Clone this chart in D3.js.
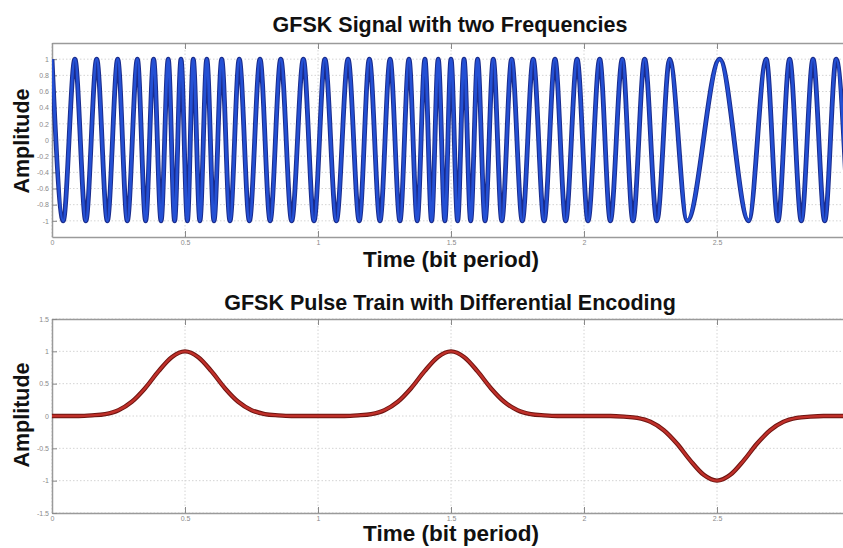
<!DOCTYPE html>
<html>
<head>
<meta charset="utf-8">
<script src="https://cdn.jsdelivr.net/npm/d3@7"></script>
<style>
  body { margin: 0; background: #fff; }
  svg { display: block; font-family: "Liberation Sans", Arial, sans-serif; }
</style>
</head>
<body>
<script>
// ---- datos ----
var xTicks = [0, 0.5, 1, 1.5, 2, 2.5]
var xTickLabels = ["0", "0.5", "1", "1.5", "2", "2.5"]
var topYTicks = [-1, -0.8, -0.6, -0.4, -0.2, 0, 0.2, 0.4, 0.6, 0.8, 1]
var topYTickLabels = ["-1", "-0.8", "-0.6", "-0.4", "-0.2", "0", "0.2", "0.4", "0.6", "0.8", "1"]
var botYTicks = [-1.5, -1, -0.5, 0, 0.5, 1, 1.5]
var botYTickLabels = ["-1.5", "-1", "-0.5", "0", "0.5", "1", "1.5"]

// picos y valles de la senal GFSK (tiempo en periodos de bit)
var sigT = [0.000, 0.042, 0.086, 0.127, 0.168, 0.208, 0.247, 0.283, 0.321, 0.352,
            0.382, 0.410, 0.437, 0.461, 0.485, 0.509, 0.531, 0.556, 0.582, 0.609,
            0.638, 0.669, 0.704, 0.742, 0.782, 0.820, 0.860, 0.901, 0.945, 0.985,
            1.026, 1.069, 1.113, 1.155, 1.193, 1.233, 1.271, 1.308, 1.342, 1.373,
            1.402, 1.427, 1.452, 1.477, 1.500, 1.525, 1.549, 1.574, 1.600, 1.628,
            1.659, 1.691, 1.728, 1.768, 1.809, 1.850, 1.891, 1.931, 1.974, 2.015,
            2.059, 2.099, 2.144, 2.184, 2.228, 2.274, 2.322, 2.388, 2.510, 2.619,
            2.685, 2.729, 2.773, 2.817, 2.861, 2.905, 2.948, 2.992]
var sigV = [1, -1, 1, -1, 1, -1, 1, -1, 1, -1,
            1, -1, 1, -1, 1, -1, 1, -1, 1, -1,
            1, -1, 1, -1, 1, -1, 1, -1, 1, -1,
            1, -1, 1, -1, 1, -1, 1, -1, 1, -1,
            1, -1, 1, -1, 1, -1, 1, -1, 1, -1,
            1, -1, 1, -1, 1, -1, 1, -1, 1, -1,
            1, -1, 1, -1, 1, -1, 1, -1, 1, -1,
            1, -1, 1, -1, 1, -1, 1, -1]

// tren de pulsos gaussianos
var pulseT = [0, 0.05, 0.1, 0.15, 0.2, 0.25, 0.3, 0.35, 0.4, 0.45,
              0.5, 0.55, 0.6, 0.65, 0.7, 0.75, 0.8, 0.85, 0.9, 0.95,
              1, 1.05, 1.1, 1.15, 1.2, 1.25, 1.3, 1.35, 1.4, 1.45,
              1.5, 1.55, 1.6, 1.65, 1.7, 1.75, 1.8, 1.85, 1.9, 1.95,
              2, 2.05, 2.1, 2.15, 2.2, 2.25, 2.3, 2.35, 2.4, 2.45,
              2.5, 2.55, 2.6, 2.65, 2.7, 2.75, 2.8, 2.85, 2.9, 2.95, 3]
var pulseV = [0, 0, 0, 0.01, 0.03, 0.09, 0.22, 0.43, 0.69, 0.91,
              1.00, 0.91, 0.69, 0.43, 0.22, 0.09, 0.03, 0.01, 0, 0,
              0, 0, 0, 0.01, 0.03, 0.09, 0.22, 0.43, 0.69, 0.91,
              1.00, 0.91, 0.69, 0.43, 0.22, 0.09, 0.03, 0.01, 0, 0,
              0, 0, 0, -0.01, -0.03, -0.09, -0.22, -0.43, -0.69, -0.91,
              -1.00, -0.91, -0.69, -0.43, -0.22, -0.09, -0.03, -0.01, 0, 0, 0]

var width = 843
var height = 548

var svg = d3.select("body")
    .append("svg")
    .attr("width", width)
    .attr("height", height)

function pintarPanel(cfg) {
    var escalaX = d3.scaleLinear()
        .domain([0, 3])
        .range([cfg.left, cfg.right])

    var escalaY = d3.scaleLinear()
        .domain(cfg.yDomain)
        .range([cfg.bottom, cfg.top])

    var g = svg.append("g")

    // grid punteado
    g.selectAll(".gy")
        .data(cfg.yTicks)
        .enter()
        .append("line")
        .attr("x1", cfg.left)
        .attr("x2", cfg.right)
        .attr("y1", d => escalaY(d))
        .attr("y2", d => escalaY(d))
        .attr("stroke", "#d4d4d4")
        .attr("stroke-width", 1)
        .attr("stroke-dasharray", "1.5,2")

    g.selectAll(".gx")
        .data(xTicks)
        .enter()
        .append("line")
        .attr("x1", d => escalaX(d))
        .attr("x2", d => escalaX(d))
        .attr("y1", cfg.top)
        .attr("y2", cfg.bottom)
        .attr("stroke", "#d4d4d4")
        .attr("stroke-width", 1)
        .attr("stroke-dasharray", "1.5,2")

    // ejes
    var ejeX = d3.axisBottom(escalaX)
        .tickValues(xTicks)
        .tickFormat((d, i) => xTickLabels[i])
        .tickSizeInner(-6)
        .tickSizeOuter(0)
        .tickPadding(3)

    var ejeXTop = d3.axisTop(escalaX)
        .tickValues(xTicks)
        .tickFormat("")
        .tickSizeInner(-6)
        .tickSizeOuter(0)

    var ejeY = d3.axisLeft(escalaY)
        .tickValues(cfg.yTicks)
        .tickFormat((d, i) => cfg.yLabels[i])
        .tickSizeInner(-5)
        .tickSizeOuter(0)
        .tickPadding(3)

    var gx = g.append("g")
        .attr("transform", "translate(0," + cfg.bottom + ")")
        .call(ejeX)
    var gxt = g.append("g")
        .attr("transform", "translate(0," + cfg.top + ")")
        .call(ejeXTop)
    var gy = g.append("g")
        .attr("transform", "translate(" + cfg.left + ",0)")
        .call(ejeY)

    ;[gx, gxt, gy].forEach(function (a) {
        a.select(".domain").attr("stroke", "#9a9a9a").attr("stroke-width", 1.5)
        a.selectAll(".tick line").attr("stroke", "#8a8a8a").attr("stroke-width", 1)
        a.selectAll(".tick text")
            .attr("fill", "#8a8a8a")
            .style("font-size", "7px")
    })

    // clip
    var clipId = "clip" + cfg.id
    svg.append("clipPath")
        .attr("id", clipId)
        .append("rect")
        .attr("x", cfg.left)
        .attr("y", cfg.top - 4)
        .attr("width", cfg.right - cfg.left)
        .attr("height", cfg.bottom - cfg.top + 8)

    var linea = d3.line()
        .x(d => escalaX(d[0]))
        .y(d => escalaY(d[1]))
        .curve(cfg.curve)

    var puntos = d3.zip(cfg.xs, cfg.ys)

    g.append("path")
        .datum(puntos)
        .attr("clip-path", "url(#" + clipId + ")")
        .attr("fill", "none")
        .attr("stroke", cfg.dark)
        .attr("stroke-width", cfg.lw + 1.2)
        .attr("d", linea)

    g.append("path")
        .datum(puntos)
        .attr("clip-path", "url(#" + clipId + ")")
        .attr("fill", "none")
        .attr("stroke", cfg.color)
        .attr("stroke-width", cfg.lw - 0.8)
        .attr("d", linea)

    // textos
    svg.append("text")
        .attr("x", 450)
        .attr("y", cfg.titleY)
        .attr("text-anchor", "middle")
        .style("font-size", "21.5px")
        .style("font-weight", "bold")
        .attr("fill", "#111")
        .text(cfg.title)

    svg.append("text")
        .attr("x", 451)
        .attr("y", cfg.xLabelY)
        .attr("text-anchor", "middle")
        .style("font-size", "22.5px")
        .style("font-weight", "bold")
        .attr("fill", "#111")
        .text("Time (bit period)")

    svg.append("text")
        .attr("transform", "translate(29," + cfg.yLabelC + ") rotate(-90)")
        .attr("text-anchor", "middle")
        .style("font-size", "21.5px")
        .style("font-weight", "bold")
        .attr("fill", "#111")
        .text("Amplitude")
}

pintarPanel({
    id: "a",
    left: 52, right: 850, top: 43, bottom: 237,
    yDomain: [-1.2, 1.2],
    yTicks: topYTicks, yLabels: topYTickLabels,
    xs: sigT, ys: sigV,
    curve: d3.curveMonotoneX,
    color: "#2450d4", dark: "#1a2c8c", lw: 3.6,
    title: "GFSK Signal with two Frequencies", titleY: 32,
    xLabelY: 267, yLabelC: 141
})

pintarPanel({
    id: "b",
    left: 52, right: 850, top: 319, bottom: 513,
    yDomain: [-1.5, 1.5],
    yTicks: botYTicks, yLabels: botYTickLabels,
    xs: pulseT, ys: pulseV,
    curve: d3.curveMonotoneX,
    color: "#c0302a", dark: "#6e1410", lw: 3.2,
    title: "GFSK Pulse Train with Differential Encoding", titleY: 310,
    xLabelY: 541, yLabelC: 415
})
</script>
</body>
</html>
